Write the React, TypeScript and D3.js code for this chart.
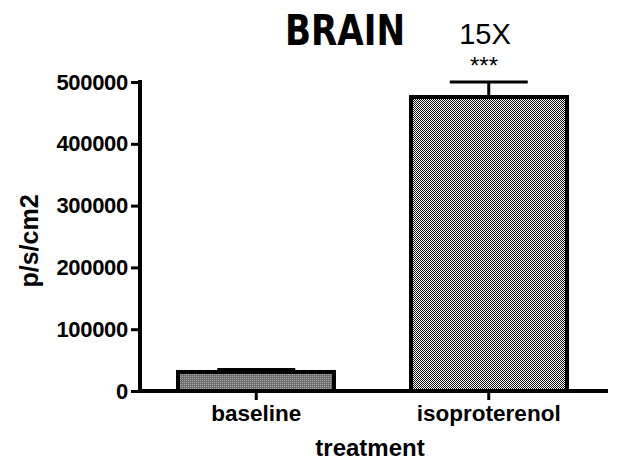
import * as d3 from 'd3';
import { useEffect, useRef } from "react";

const categories = ['baseline', 'isoproterenol'];
const means = [30800, 476000];
const sems = [4000, 24000];
const yTicks = [0, 100000, 200000, 300000, 400000, 500000];
const fills = ['url(#dots)', 'url(#checker)'];

const App = () => {
    const svgRef = useRef<SVGSVGElement>(null);
    const width = 619;
    const height = 463;

    useEffect(() => {
        const svg = d3.select(svgRef.current)
            .attr('width', width)
            .attr('height', height);

        svg.selectAll('*').remove();

        const defs = svg.append('defs');
        const dots = defs.append('pattern')
            .attr('id', 'dots')
            .attr('width', 2).attr('height', 2)
            .attr('patternUnits', 'userSpaceOnUse');
        dots.append('rect').attr('width', 2).attr('height', 2).attr('fill', '#6e6e6e');
        dots.append('rect').attr('width', 1).attr('height', 1).attr('fill', '#a8a8a8');

        const checker = defs.append('pattern')
            .attr('id', 'checker')
            .attr('width', 2).attr('height', 2)
            .attr('patternUnits', 'userSpaceOnUse');
        checker.append('rect').attr('width', 2).attr('height', 2).attr('fill', '#ffffff');
        checker.append('rect').attr('width', 1).attr('height', 1).attr('fill', '#111');
        checker.append('rect').attr('x', 1).attr('y', 1).attr('width', 1).attr('height', 1).attr('fill', '#111');

        const x = d3.scaleBand()
            .domain(categories)
            .range([140, 605])
            .paddingInner(0.33)
            .paddingOuter(0.165);

        const y = d3.scaleLinear()
            .domain([0, 500000])
            .range([391, 82]);

        const font = '"Liberation Sans", Arial, sans-serif';

        // bars
        svg.selectAll('rect.bar')
            .data(categories)
            .enter()
            .append('rect')
            .attr('class', 'bar')
            .attr('x', c => x(c)!)
            .attr('y', (c, i) => y(means[i]))
            .attr('width', x.bandwidth())
            .attr('height', (c, i) => y(0) - y(means[i]))
            .attr('fill', (c, i) => fills[i])
            .attr('stroke', '#000')
            .attr('stroke-width', 4)
            .attr('shape-rendering', 'crispEdges');

        // upper error bars
        categories.forEach((c, i) => {
            const cx = x(c)! + x.bandwidth() / 2;
            svg.append('line')
                .attr('x1', cx).attr('x2', cx)
                .attr('y1', y(means[i])).attr('y2', y(means[i] + sems[i]))
                .attr('stroke', '#000').attr('stroke-width', 3);
            svg.append('line')
                .attr('x1', cx - 39).attr('x2', cx + 39)
                .attr('y1', y(means[i] + sems[i])).attr('y2', y(means[i] + sems[i]))
                .attr('stroke', '#000').attr('stroke-width', 3);
        });

        // y axis
        const yAxis = d3.axisLeft(y).tickValues(yTicks).tickFormat(d3.format('d')).tickSize(9).tickSizeOuter(0).tickPadding(3);
        const gy = svg.append('g').attr('transform', 'translate(140,0)').call(yAxis);
        gy.select('.domain').attr('stroke-width', 4).attr('d', 'M0,80V393');
        gy.selectAll('.tick line').attr('stroke-width', 3);
        gy.selectAll('.tick text')
            .attr('font-family', font)
            .attr('font-weight', 'bold')
            .attr('font-size', 22)
            .attr('letter-spacing', -0.3)
            .attr('fill', '#000');

        // x axis
        const xAxis = d3.axisBottom(x).tickSize(9).tickSizeOuter(0).tickPadding(5);
        const gx = svg.append('g').attr('transform', 'translate(0,391)').call(xAxis);
        gx.select('.domain').attr('stroke-width', 4).attr('d', 'M138,0H608');
        gx.selectAll('.tick line').attr('stroke-width', 3);
        gx.selectAll('.tick text')
            .attr('font-family', font)
            .attr('font-weight', 'bold')
            .attr('font-size', 22.5)
            .attr('fill', '#000');

        // axis titles
        svg.append('text')
            .attr('x', 370)
            .attr('y', 456)
            .attr('text-anchor', 'middle')
            .attr('font-family', font)
            .attr('font-weight', 'bold')
            .attr('font-size', 24)
            .text('treatment');
        svg.append('text')
            .attr('transform', 'translate(38,241) rotate(-90)')
            .attr('text-anchor', 'middle')
            .attr('font-family', font)
            .attr('font-weight', 'bold')
            .attr('font-size', 25)
            .text('p/s/cm2');

        // title and annotations
        svg.append('text')
            .attr('x', 285)
            .attr('y', 45)
            .attr('font-family', '"Liberation Sans Narrow", "DejaVu Sans Condensed", sans-serif')
            .attr('font-weight', 'bold')
            .attr('font-size', 43)
            .attr('textLength', 120)
            .attr('lengthAdjust', 'spacingAndGlyphs')
            .text('BRAIN');
        svg.append('text')
            .attr('x', 485)
            .attr('y', 44)
            .attr('text-anchor', 'middle')
            .attr('font-family', font)
            .attr('font-size', 29)
            .text('15X');
        svg.append('text')
            .attr('x', 484)
            .attr('y', 74)
            .attr('text-anchor', 'middle')
            .attr('font-family', font)
            .attr('font-size', 24)
            .text('***');
    }, []);

    return (
        <div style={{ position: 'absolute', left: 0, top: 0 }}>
            <svg ref={svgRef} style={{ display: 'block' }} />
        </div>
    );
};

export default App;
